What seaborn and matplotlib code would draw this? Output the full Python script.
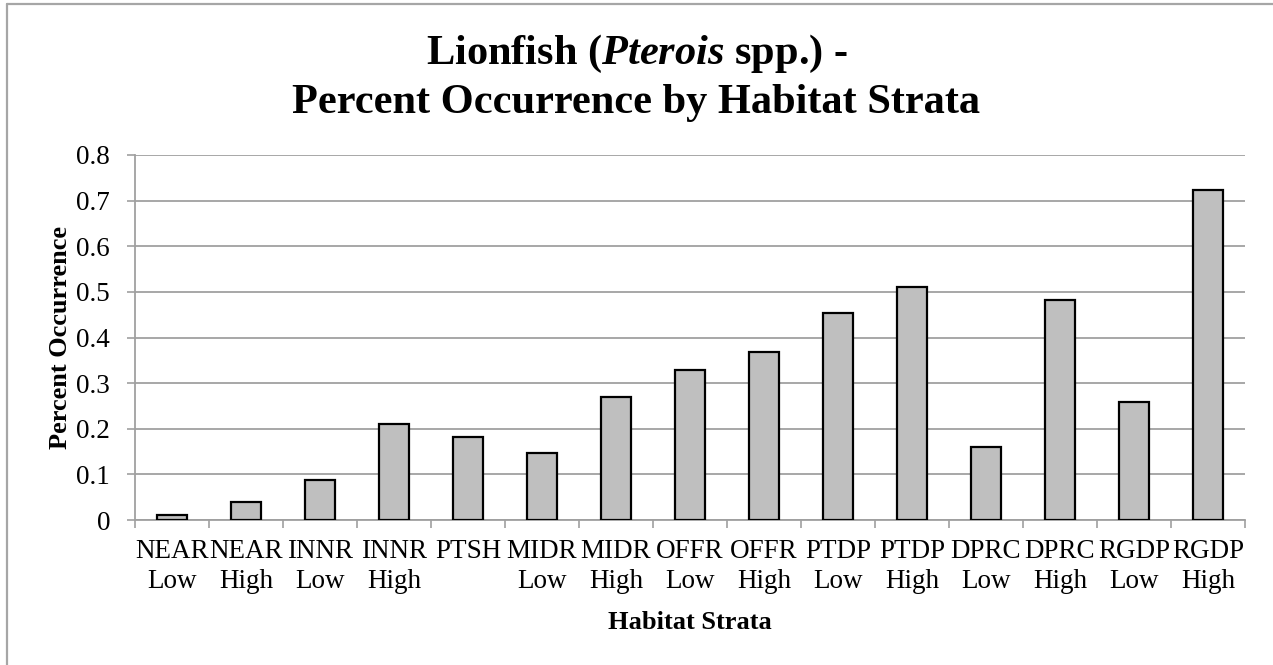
import matplotlib
matplotlib.use("Agg")
import matplotlib.pyplot as plt
import seaborn as sns
import pandas as pd
from matplotlib.lines import Line2D

# Habitat strata and the share of sites where lionfish were recorded
strata = ["NEAR", "NEAR", "INNR", "INNR", "PTSH", "MIDR", "MIDR", "OFFR",
          "OFFR", "PTDP", "PTDP", "DPRC", "DPRC", "RGDP", "RGDP"]
relief = ["Low", "High", "Low", "High", "", "Low", "High", "Low",
          "High", "Low", "High", "Low", "High", "Low", "High"]
occurrence = [0.010, 0.040, 0.087, 0.210, 0.181, 0.147, 0.269, 0.329,
              0.369, 0.453, 0.511, 0.161, 0.482, 0.258, 0.723]
y_ticks = [0, 0.1, 0.2, 0.3, 0.4, 0.5, 0.6, 0.7, 0.8]

labels = [f"{s}\n{r}" for s, r in zip(strata, relief)]
df = pd.DataFrame({"stratum": labels, "occurrence": occurrence})

sns.set_theme(style="white")
plt.rcParams["font.family"] = ["Liberation Serif", "DejaVu Serif"]
plt.rcParams["mathtext.fontset"] = "custom"
plt.rcParams["mathtext.rm"] = "Liberation Serif:bold"
plt.rcParams["mathtext.bfit"] = "Liberation Serif:italic:bold"
for key in ["text.color", "axes.labelcolor", "xtick.labelcolor",
            "ytick.labelcolor"]:
    plt.rcParams[key] = "black"

W, H = 1273, 665
fig = plt.figure(figsize=(W / 100, H / 100), dpi=100)
ax = fig.add_axes([135 / W, 1 - 520 / H, (1245 - 135) / W, (520 - 155) / H])

grid_c = "#a0a0a0"
sns.barplot(data=df, x="stratum", y="occurrence", color="#bfbfbf",
            saturation=1, edgecolor="black", linewidth=1.6, width=0.41,
            ax=ax, zorder=3)

ax.set_ylim(0, 0.8)
ax.set_xlim(-0.5, len(labels) - 0.5)
ax.set_yticks(y_ticks)
ax.set_yticklabels(["0" if v == 0 else f"{v:.1f}" for v in y_ticks],
                   fontsize=19.5)
ax.yaxis.grid(True, color=grid_c, linewidth=1.3, zorder=0)
ax.set_axisbelow(True)

# category separators as outward ticks on the x axis
ax.set_xticks(range(len(labels)))
ax.set_xticklabels(labels, fontsize=19.5, linespacing=1.22)
ax.set_xticks([i - 0.5 for i in range(len(labels) + 1)], minor=True)
ax.tick_params(axis="x", which="major", length=0, pad=14)
ax.tick_params(axis="x", which="minor", length=6, width=1.2,
               color=grid_c, direction="out", bottom=True)
ax.tick_params(axis="y", length=6, width=1.2, color=grid_c,
               direction="out", left=True, pad=12)

for side in ["top", "right"]:
    ax.spines[side].set_visible(False)
for side in ["left", "bottom"]:
    ax.spines[side].set_color(grid_c)
    ax.spines[side].set_linewidth(1.3)

ax.set_xlabel("Habitat Strata", fontsize=19, fontweight="bold")
ax.xaxis.set_label_coords(0.5, -0.248)
ax.set_ylabel("Percent Occurrence", fontsize=19, fontweight="bold")
ax.yaxis.set_label_coords(-0.057, 0.5)

fig.text(0.5, 1 - 64 / H, r"Lionfish ($\mathbfit{Pterois}$ spp.) -",
         ha="center", va="baseline", fontsize=30.5, fontweight="bold")
fig.text(0.5, 1 - 113 / H, "Percent Occurrence by Habitat Strata",
         ha="center", va="baseline", fontsize=30.5, fontweight="bold")

# chart frame
fig.add_artist(Line2D([7 / W, 7 / W], [0, 1 - 4 / H], color="#a6a6a6",
                      linewidth=1.6, transform=fig.transFigure))
fig.add_artist(Line2D([7 / W, 1], [1 - 4 / H, 1 - 4 / H], color="#a6a6a6",
                      linewidth=1.6, transform=fig.transFigure))

fig.savefig("out.png", dpi=100, facecolor="white")
